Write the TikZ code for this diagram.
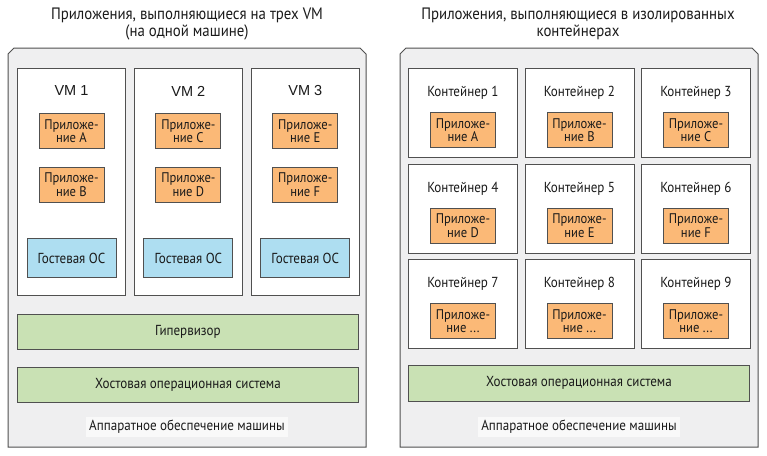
\documentclass[tikz,border=0pt]{standalone}
\usepackage{fontspec}
\setmainfont{PT Sans}[FakeStretch=0.9]
\newfontfamily\vmfont{Liberation Sans}
\usetikzlibrary{positioning}
\definecolor{appfill}{HTML}{FBB977}
\definecolor{osfill}{HTML}{AEDEF1}
\definecolor{layerfill}{HTML}{C9E1B4}
\definecolor{framefill}{HTML}{EFEFF0}
\definecolor{edgegray}{HTML}{505050}
\definecolor{ink}{HTML}{1A1A1A}
\newcommand\appdots{...}

\begin{document}
\begin{tikzpicture}[x=1pt, y=-1pt, node distance=8pt,
  every node/.style={font=\fontsize{14.5}{13.5}\selectfont, text=ink, align=center, inner sep=0pt},
  frame/.style={draw=edgegray, fill=framefill, line width=1pt},
  vmbox/.style={draw=edgegray, fill=white, line width=0.9pt, minimum width=108pt, minimum height=227pt},
  ctbox/.style={draw=edgegray, fill=white, line width=0.9pt, minimum width=109pt, minimum height=89pt, anchor=north west},
  appbox/.style={draw=edgegray, fill=appfill, line width=0.9pt, minimum width=65pt, minimum height=35pt, font=\fontsize{14}{13.5}\selectfont},
  osbox/.style={draw=edgegray, fill=osfill, line width=0.9pt, minimum width=89pt, minimum height=39pt},
  layerbox/.style={draw=edgegray, fill=layerfill, line width=0.9pt, minimum width=341pt, minimum height=35pt},
  hwlabel/.style={fill=white!60!framefill, inner xsep=3pt, inner ysep=3pt},
  title/.style={font=\fontsize{16.5}{17}\selectfont}]
\useasboundingbox (0,0) rectangle (767,455);

% titles
\node[title] (titleVM) at (187,24) {Приложения, выполняющиеся на трех VM\\(на одной машине)};
\node[title] (titleCT) at (578,24) {Приложения, выполняющиеся в изолированных\\контейнерах};

% machine with VMs
\draw[frame] (8,447) -- (8,54) -- (14,48) -- (360,48) -- (366,54) -- (366,447) -- cycle;
\node[vmbox, anchor=north west] (vm1) at (17,68) {};
\node[vmbox, right=of vm1] (vm2) {};
\node[vmbox, right=of vm2] (vm3) {};
\node (vm1lbl) at ([yshift=-23pt]vm1.north) {\vmfont VM 1};
\node (vm2lbl) at ([yshift=-23pt]vm2.north) {\vmfont VM 2};
\node (vm3lbl) at ([yshift=-23pt]vm3.north) {\vmfont VM 3};
\node[appbox, below=45pt of vm1.north] (appA) {Приложе-\\ние A};
\node[appbox, below=18pt of appA] (appB) {Приложе-\\ние B};
\node[appbox, below=45pt of vm2.north] (appC) {Приложе-\\ние C};
\node[appbox, below=18pt of appC] (appD) {Приложе-\\ние D};
\node[appbox, below=45pt of vm3.north] (appE) {Приложе-\\ние E};
\node[appbox, below=18pt of appE] (appF) {Приложе-\\ние F};
\node[osbox, above=18pt of vm1.south] (guest1) {Гостевая ОС};
\node[osbox, above=18pt of vm2.south] (guest2) {Гостевая ОС};
\node[osbox, above=18pt of vm3.south] (guest3) {Гостевая ОС};
\node[layerbox, below=18pt of vm1.south west, anchor=north west] (hyper) {Гипервизор};
\node[layerbox, below=17pt of hyper] (hostVM) {Хостовая операционная система};
\node[hwlabel] (hwVM) at (187,427) {Аппаратное обеспечение машины};

% machine with containers
\draw[frame] (400,447) -- (400,54) -- (406,48) -- (752,48) -- (758,54) -- (758,447) -- cycle;
\foreach \i/\col/\row/\app in {1/0/0/A, 2/1/0/B, 3/2/0/C, 4/0/1/D, 5/1/1/E, 6/2/1/F, 7/0/2/\appdots, 8/1/2/\appdots, 9/2/2/\appdots}{
  \node[ctbox] (ct\i) at (408+116.5*\col, 68+95.5*\row) {};
  \node (ct\i lbl) at ([yshift=-25pt]ct\i.north) {Контейнер \i};
  \node[appbox, below=44pt of ct\i.north] (ctapp\i) {Приложе-\\ние \app};
}
\node[layerbox, below=16pt of ct7.south west, anchor=north west, minimum height=36pt] (hostCT) {Хостовая операционная система};
\node[hwlabel] (hwCT) at (579,427) {Аппаратное обеспечение машины};
\end{tikzpicture}
\end{document}
